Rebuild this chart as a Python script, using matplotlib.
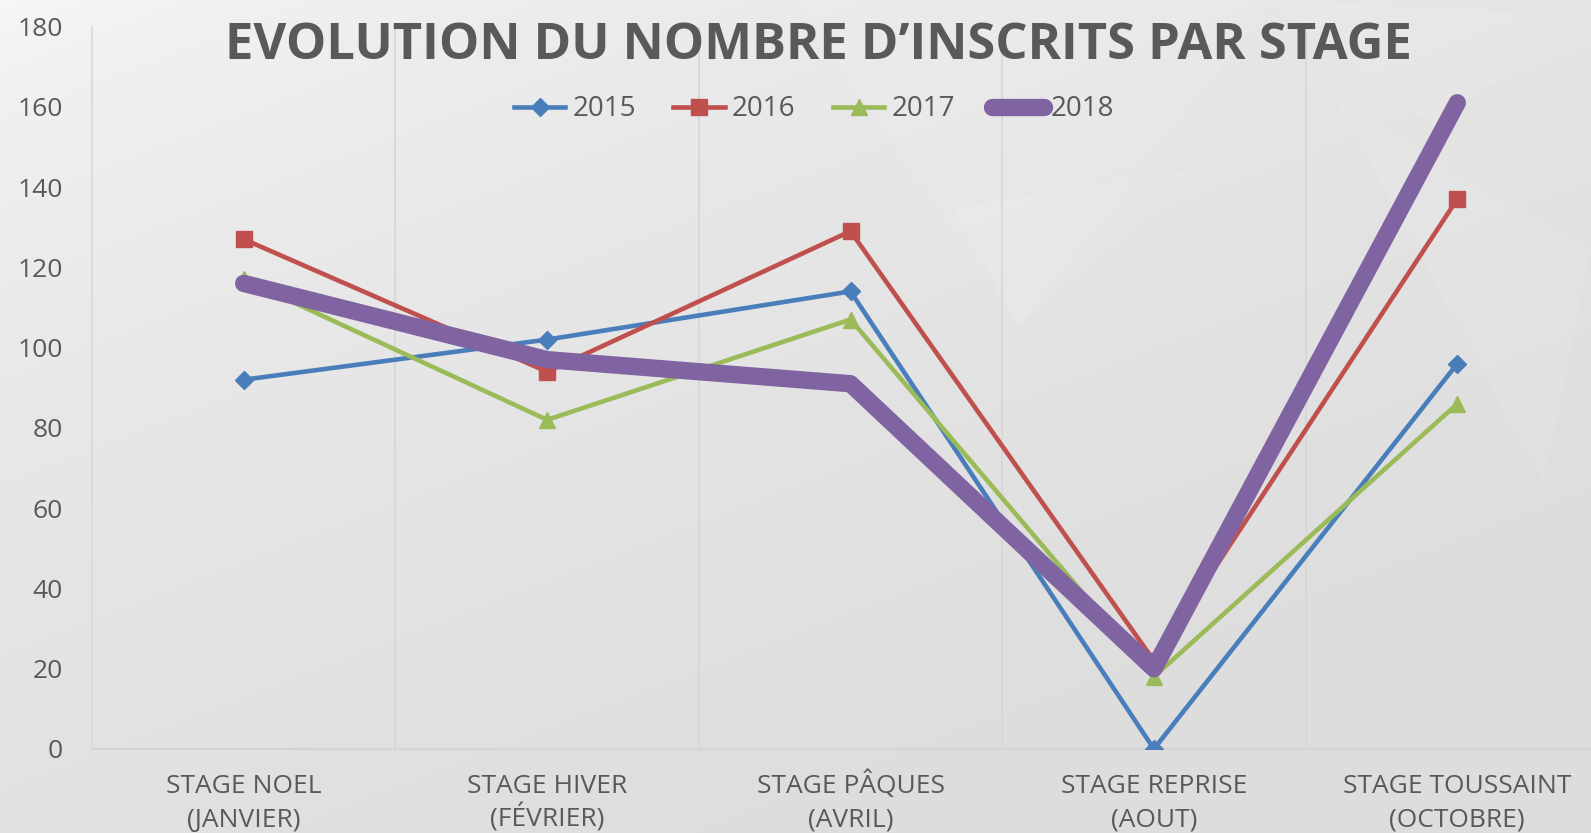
import numpy as np
import matplotlib
matplotlib.use("Agg")
import matplotlib.pyplot as plt
from matplotlib.patches import Polygon

# data
stages = ["STAGE NOEL", "STAGE HIVER", "STAGE PÂQUES", "STAGE REPRISE", "STAGE TOUSSAINT"]
months = ["(JANVIER)", "(FÉVRIER)", "(AVRIL)", "(AOUT)", "(OCTOBRE)"]
y2015 = [92, 102, 114, 0, 96]
y2016 = [127, 94, 129, 22, 137]
y2017 = [117, 82, 107, 18, 86]
y2018 = [116, 97, 91, 20, 161]

title = "EVOLUTION DU NOMBRE D\u2019INSCRITS PAR STAGE"
grey_txt = "#595959"

plt.rcParams['font.family'] = ['Open Sans', 'DejaVu Sans']

W, H = 1591, 833
fig = plt.figure(figsize=(W / 100, H / 100), dpi=100)

# background: soft diagonal gradient with a few faint triangles
bg = fig.add_axes([0, 0, 1, 1], zorder=-10)
yy, xx = np.mgrid[0:1:200j, 0:1:400j]
t = np.clip(0.55 * xx + 0.75 * yy, 0, 1)
shade = 0.975 - 0.105 * np.sqrt(t)
bg.imshow(np.dstack([shade, shade, shade]), extent=[0, 1, 0, 1], origin="upper",
          aspect="auto", interpolation="bilinear")
tris = [[(0.50, 1.0), (0.64, 0.61), (0.80, 1.0)],
        [(0.80, 1.0), (0.90, 0.85), (1.0, 0.98)],
        [(0.84, 0.88), (0.97, 0.42), (1.0, 0.70)],
        [(0.60, 0.75), (0.64, 0.61), (0.76, 0.80)]]
for tri in tris:
    bg.add_patch(Polygon(tri, closed=True, facecolor="white", alpha=0.09, lw=0))
bg.set_xlim(0, 1)
bg.set_ylim(0, 1)
bg.axis("off")

# plot area (runs slightly past the right edge, as in the reference)
left, right = 92 / W, 1609 / W
bottom, top = (H - 749) / H, (H - 26.5) / H
ax = fig.add_axes([left, bottom, right - left, top - bottom])
ax.patch.set_alpha(0)

x = np.arange(len(stages))
ax.plot(x, y2015, color="#4A7EBB", lw=3.3, marker="D", ms=8.7, label="2015", zorder=3)
ax.plot(x, y2016, color="#C0504D", lw=3.3, marker="s", ms=12, label="2016", zorder=4)
ax.plot(x, y2017, color="#9BBB59", lw=3.3, marker="^", ms=12, label="2017", zorder=5)
ax.plot(x, y2018, color="#8064A2", lw=12.5, marker="x", ms=7, mew=1.5, label="2018",
        solid_capstyle="round", solid_joinstyle="round", zorder=6)

ax.set_xlim(-0.5, len(stages) - 0.5)
ax.set_ylim(0, 180)
ax.set_yticks(np.arange(0, 181, 20))
# stage name on the major ticks, month on a second row (minor ticks)
ax.xaxis.remove_overlapping_locs = False
ax.set_xticks(x)
ax.set_xticklabels(stages, fontsize=19, color=grey_txt, va="baseline")
ax.set_xticks(x, minor=True)
ax.set_xticklabels(months, minor=True, fontsize=19, color=grey_txt, va="baseline")
ax.tick_params(axis="y", length=0, pad=21, labelsize=19, labelcolor=grey_txt)
ax.tick_params(axis="x", which="major", length=0, pad=32)
ax.tick_params(axis="x", which="minor", length=0, pad=56)

for b in np.arange(0.5, len(stages), 1):
    ax.axvline(b, color="#d6d6d6", lw=1.2, zorder=1)

for s in ["top", "right"]:
    ax.spines[s].set_visible(False)
ax.spines["left"].set_color("#d9d9d9")
ax.spines["left"].set_linewidth(1.2)
ax.spines["bottom"].set_color("#d4d4d4")
ax.spines["bottom"].set_linewidth(1.6)

fig.text(818 / W, 1 - 46 / H, title, ha="center", va="center", fontsize=36.5,
         fontweight="bold", color=grey_txt)

fig.legend(loc="center", bbox_to_anchor=(814 / W, 1 - 109.5 / H), ncol=4, frameon=False,
           fontsize=20, labelcolor=grey_txt, handlelength=1.85, handletextpad=0.25,
           columnspacing=1.35)

fig.savefig("out.png", dpi=100)
